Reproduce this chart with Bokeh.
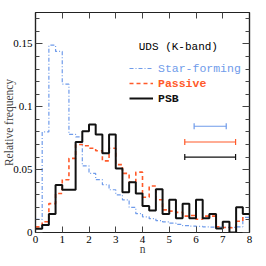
from bokeh.plotting import figure
from bokeh.models import (Range1d, FixedTicker, LinearAxis, Legend, LegendItem,
                          Label, Whisker, ColumnDataSource, TeeHead)
from bokeh.embed import file_html
from bokeh.resources import INLINE

# ---- data ----
bin_edges = [0.0, 0.25, 0.5, 0.75, 1.0, 1.25, 1.5, 1.75, 2.0, 2.25, 2.5, 2.75,
             3.0, 3.25, 3.5, 3.75, 4.0, 4.25, 4.5, 4.75, 5.0, 5.25, 5.5, 5.75,
             6.0, 6.25, 6.5, 6.75, 7.0, 7.25, 7.5, 7.75, 8.0]

star_forming = [0.0105, 0.080, 0.149, 0.144, 0.118, 0.078, 0.076, 0.053,
                0.047, 0.042, 0.038, 0.034, 0.030, 0.026, 0.020, 0.015,
                0.0125, 0.011, 0.0095, 0.0085, 0.0075, 0.0065, 0.0055, 0.005,
                0.0048, 0.0045, 0.0043, 0.0042, 0.004, 0.004, 0.0045, 0.012]

passive = [0.0045, 0.0086, 0.023, 0.031, 0.042, 0.059, 0.070, 0.069,
           0.067, 0.065, 0.057, 0.067, 0.054, 0.047, 0.040, 0.048,
           0.028, 0.037, 0.026, 0.018, 0.017, 0.016, 0.013, 0.0135,
           0.0105, 0.013, 0.013, 0.0046, 0.004, 0.0038, 0.009, 0.0147]

psb = [0.003, 0.006, 0.0147, 0.0377, 0.034, 0.034, 0.072, 0.0805,
       0.086, 0.078, 0.063, 0.078, 0.051, 0.032, 0.040, 0.031,
       0.021, 0.0175, 0.0345, 0.0147, 0.026, 0.0113, 0.0228, 0.0113,
       0.026, 0.0113, 0.0147, 0.0032, 0.0085, 0.0, 0.020, 0.0147]

# typical uncertainty bars (n range) and their heights
err_names = ["Star-forming", "Passive", "PSB"]
err_y = [0.0845, 0.072, 0.060]
err_lo = [5.93, 5.58, 5.58]
err_hi = [7.13, 7.48, 7.48]

x_ticks = [0, 1, 2, 3, 4, 5, 6, 7, 8]
y_ticks = [0, 0.05, 0.1, 0.15]
y_tick_labels = ["0", "0.05", "0.1", "0.15"]
y_minor = [0.01, 0.02, 0.03, 0.04, 0.06, 0.07, 0.08, 0.09, 0.11, 0.12, 0.13,
           0.14, 0.16, 0.17]

SF_COL = "#6f9bea"
PA_COL = "#ff5a2a"
PSB_COL = "#111111"
SERIF = "Liberation Serif"
MONO = "Liberation Mono"

p = figure(width=258, height=260, output_backend="svg", toolbar_location=None,
           x_range=Range1d(0, 8), y_range=Range1d(0, 0.175),
           x_axis_label="n", y_axis_label="Relative frequency",
           min_border_left=32, min_border_right=9, min_border_top=12,
           min_border_bottom=28)
p.grid.visible = False
p.outline_line_color = "#222222"
p.outline_line_width = 1.2
p.background_fill_color = "white"
p.border_fill_color = "white"

def style_axis(ax, ticker, labels=True):
    ax.ticker = ticker
    ax.axis_line_color = "#222222"
    ax.axis_line_width = 1.2
    ax.major_tick_line_color = "#444444"
    ax.minor_tick_line_color = "#444444"
    ax.major_tick_out = 0
    ax.minor_tick_out = 0
    ax.major_label_text_font = SERIF
    ax.major_label_text_font_size = "11px"
    ax.major_label_text_color = "black"
    ax.major_label_standoff = 3
    ax.axis_label_text_font = SERIF
    ax.axis_label_text_font_size = "11.5px"
    ax.axis_label_text_font_style = "normal"
    ax.axis_label_standoff = 0
    if not labels:
        ax.major_label_text_color = None
        ax.major_label_text_font_size = "2px"
        ax.major_label_standoff = 0

x_ticker = FixedTicker(ticks=x_ticks, minor_ticks=[])
y_ticker = FixedTicker(ticks=y_ticks, minor_ticks=y_minor)

for ax in p.xaxis:
    style_axis(ax, x_ticker)
    ax.major_tick_in = 6
    ax.axis_label_standoff = -3
for ax in p.yaxis:
    style_axis(ax, y_ticker)
    ax.major_tick_in = 7
    ax.minor_tick_in = 4
    ax.axis_label_standoff = -5
    ax.major_label_overrides = {t: l for t, l in zip(y_ticks, y_tick_labels)}

top = LinearAxis()
style_axis(top, FixedTicker(ticks=x_ticks, minor_ticks=[]), labels=False)
top.major_tick_in = 6
p.add_layout(top, "above")
right = LinearAxis()
style_axis(right, FixedTicker(ticks=y_ticks, minor_ticks=y_minor), labels=False)
right.major_tick_in = 7
right.minor_tick_in = 4
p.add_layout(right, "right")

def step_y(vals):
    return list(vals) + [vals[-1]]

r_sf = p.step(bin_edges, step_y(star_forming), mode="after", line_color=SF_COL,
              line_width=1.2, line_dash="4 2 1 2")
r_pa = p.step(bin_edges, step_y(passive), mode="after", line_color=PA_COL,
              line_width=1.6, line_dash="4 3")
r_psb = p.step(bin_edges, step_y(psb), mode="after", line_color=PSB_COL,
               line_width=2)

for col, y, lo, hi in zip([SF_COL, PA_COL, PSB_COL], err_y, err_lo, err_hi):
    src = ColumnDataSource(dict(base=[y], lower=[lo], upper=[hi]))
    w = Whisker(source=src, base="base", lower="lower", upper="upper",
                dimension="width", line_color=col, line_width=1.2,
                lower_head=TeeHead(size=6, line_color=col, line_width=1.2),
                upper_head=TeeHead(size=6, line_color=col, line_width=1.2))
    p.add_layout(w)

p.add_layout(Label(x=3.86, y=0.1478, text="UDS (K-band)", text_font=MONO,
                   text_font_size="11px", text_color="black",
                   text_baseline="middle", text_align="left"))

leg_specs = [("Star-forming", r_sf, SF_COL, "normal", 157),
             ("Passive", r_pa, PA_COL, "bold", 142),
             ("PSB", r_psb, PSB_COL, "bold", 127)]
for label, rend, col, style, ypos in leg_specs:
    lg = Legend(items=[LegendItem(label=label, renderers=[rend])],
                location=(94, ypos), padding=0, margin=0, spacing=0,
                glyph_width=24, glyph_height=14, label_standoff=5,
                label_text_font=MONO, label_text_font_size="11.5px",
                label_text_color=col, label_text_font_style=style,
                background_fill_alpha=0, border_line_color=None)
    p.add_layout(lg, "center")

open("out.html", "w").write(file_html(p, INLINE))
